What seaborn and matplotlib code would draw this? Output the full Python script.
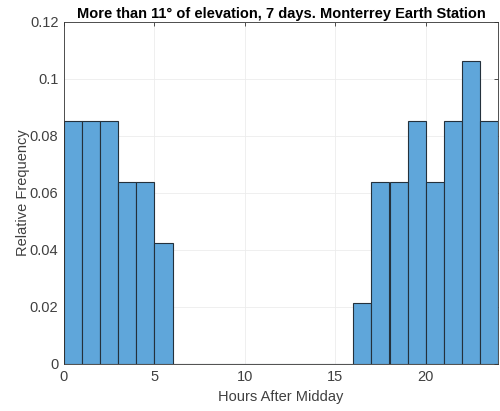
import numpy as np
import pandas as pd
import matplotlib
matplotlib.use("Agg")
import matplotlib.pyplot as plt
import seaborn as sns

# Data: hour bins (centres) and counts per bin
hour_centres = [0.5, 1.5, 2.5, 3.5, 4.5, 5.5, 16.5, 17.5, 18.5, 19.5, 20.5, 21.5, 22.5, 23.5]
counts = [4, 4, 4, 3, 3, 2, 1, 3, 3, 4, 3, 4, 5, 4]
bin_edges = list(range(0, 25))
x_ticks = [0, 5, 10, 15, 20]
y_ticks = [0, 0.02, 0.04, 0.06, 0.08, 0.1, 0.12]
y_tick_labels = ["0", "0.02", "0.04", "0.06", "0.08", "0.1", "0.12"]

sns.set_style("white")
plt.rcParams['font.family'] = ['Liberation Sans', 'DejaVu Sans']

df = pd.DataFrame({"hour": hour_centres, "count": counts})

fig = plt.figure(figsize=(5, 4.11), dpi=100)
ax = fig.add_axes([0.128, 0.1144, 0.868, 0.8321])

sns.histplot(data=df, x="hour", weights="count", stat="probability", bins=bin_edges,
             color="#5fa6da", alpha=1.0, edgecolor="#24313c", linewidth=0.8, ax=ax)

ax.set_xlim(0, 24)
ax.set_ylim(0, 0.12)
ax.set_xticks(x_ticks)
ax.set_xticklabels([str(t) for t in x_ticks])
ax.set_yticks(y_ticks)
ax.set_yticklabels(y_tick_labels)
ax.grid(True, color="#ececec", linewidth=0.6)
ax.set_axisbelow(True)

for s in ax.spines.values():
    s.set_visible(True)
    s.set_color("#333333")
    s.set_linewidth(0.6)

ax.tick_params(direction="in", length=3, width=0.6, colors="#333333",
               labelsize=10.5, top=True, right=True, labelcolor="#404040", pad=4)
ax.set_xlabel("Hours After Midday", fontsize=10.5, color="#404040", labelpad=5)
ax.set_ylabel("Relative Frequency", fontsize=10.5, color="#404040", labelpad=0)
ax.set_title("More than 11° of elevation, 7 days. Monterrey Earth Station",
             fontsize=10.5, fontweight="bold", color="black", pad=3)

fig.savefig("out.png", dpi=100)
